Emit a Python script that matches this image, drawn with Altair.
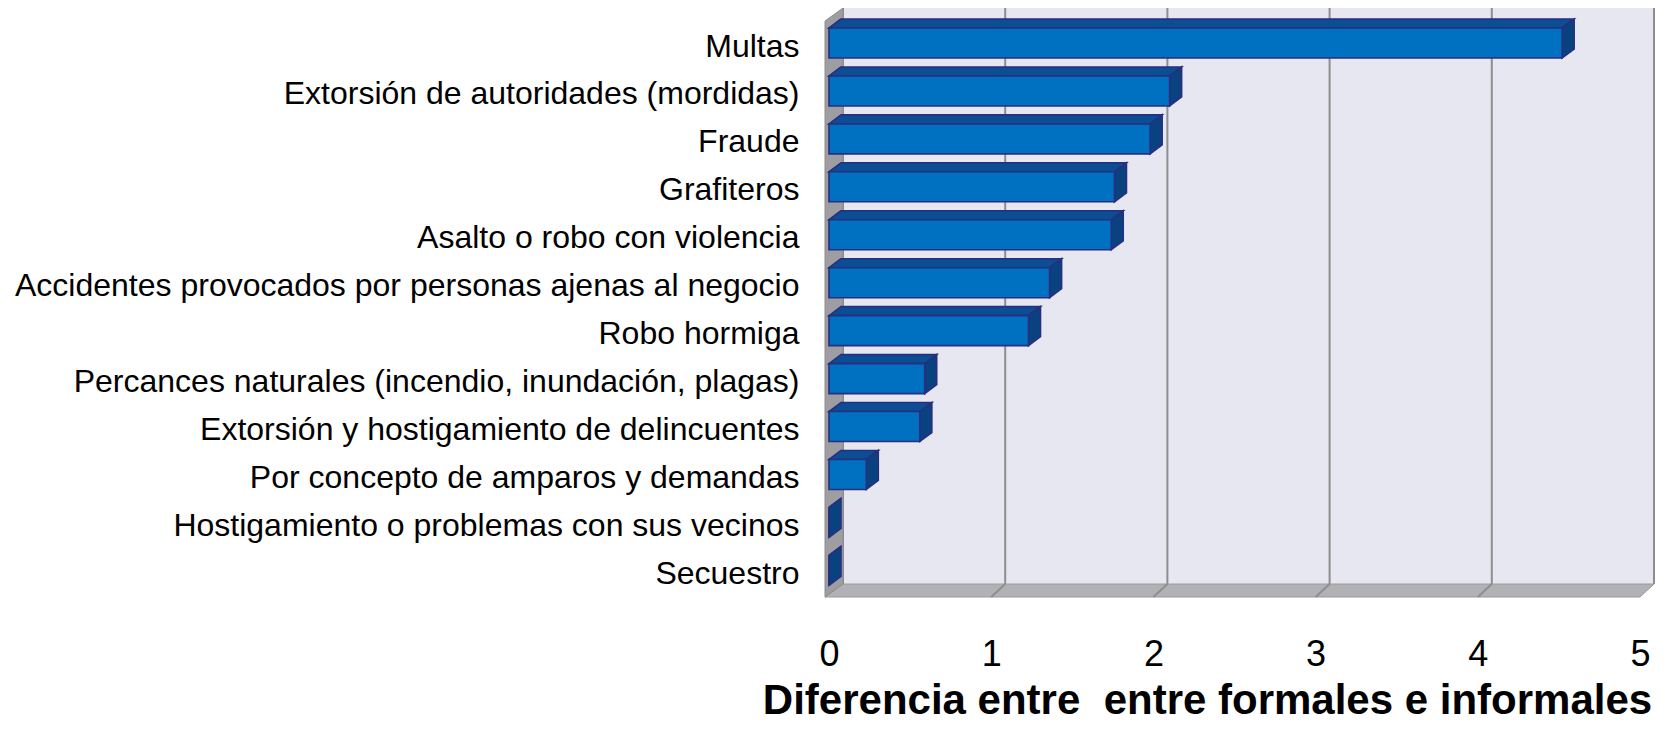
import json
import altair as alt
import pandas as pd

# ---------------- data ----------------
categories = [
    "Multas",
    "Extorsión de autoridades (mordidas)",
    "Fraude",
    "Grafiteros",
    "Asalto o robo con violencia",
    "Accidentes provocados por personas ajenas al negocio",
    "Robo hormiga",
    "Percances naturales (incendio, inundación, plagas)",
    "Extorsión y hostigamiento de delincuentes",
    "Por concepto de amparos y demandas",
    "Hostigamiento o problemas con sus vecinos",
    "Secuestro",
]
values = [4.52, 2.10, 1.98, 1.76, 1.74, 1.36, 1.23, 0.59, 0.56, 0.23, 0.0, 0.0]
x_ticks = [0, 1, 2, 3, 4, 5]
x_title = "Diferencia entre  entre formales e informales"
# keep the double space visible in SVG
x_title_shown = x_title.replace("  ", "\u00a0 ")

# ---------------- geometry (pixel sizes converted to data units) ----------------
PX_X = 162.2      # pixels per x unit
PX_R = 47.94      # pixels per category row
X_MIN = -4 / PX_X
WDX = 14 / PX_X   # wall depth (x)
X_MAX = 5 + WDX
R_MIN = -35 / PX_R
R_MAX = 554 / PX_R
FLOOR_BACK = R_MAX - 13 / PX_R
WALL_TOP_FRONT = R_MIN + 13 / PX_R
HALF = 15 / PX_R  # half bar height
BDX = 12 / PX_X   # bar depth
BDY = 9 / PX_R

W = round((X_MAX - X_MIN) * PX_X)
H = round((R_MAX - R_MIN) * PX_R)

FONT = "Liberation Sans"
xs = alt.Scale(domain=[X_MIN, X_MAX], nice=False, zero=False)
ys = alt.Scale(domain=[R_MIN, R_MAX], nice=False, zero=False, reverse=True)

label_expr = json.dumps(categories, ensure_ascii=False) + "[round(datum.value)]"

AX_X = alt.Axis(
    values=x_ticks, title=x_title_shown, grid=False, domain=False, ticks=False,
    labelFontSize=36, labelFont=FONT, labelColor="#000000", labelFlush=False,
    labelBaseline="alphabetic", labelPadding=68, labelOverlap=False,
    titleFontSize=42, titleFont=FONT, titleFontWeight="bold", titleColor="#000000",
    titleX=382, titleY=116, titleAlign="center", titleBaseline="alphabetic")
AX_Y = alt.Axis(
    values=list(range(len(categories))), labelExpr=label_expr, title=None,
    grid=False, domain=False, ticks=False, labelFontSize=32, labelFont=FONT,
    labelColor="#000000", labelPadding=26, labelLimit=2000, labelOverlap=False,
    labelBaseline="middle", labelFlush=False, labelOffset=3)


def X(f):
    return alt.X(f, scale=xs, axis=AX_X, title=x_title_shown)


def Y(f):
    return alt.Y(f, scale=ys, axis=AX_Y, title=None)


# ---------------- tables ----------------
front = pd.DataFrame({
    "cat": categories,
    "x0": [0.0] * len(values),
    "x1": values,
    "y0": [i - HALF for i in range(len(values))],
    "y1": [i + HALF for i in range(len(values))],
})

top_rows, side_rows = [], []
for i, (c, v) in enumerate(zip(categories, values)):
    top_rows.append({"cat": c, "y": i - HALF, "xl": 0.0, "xr": v})
    top_rows.append({"cat": c, "y": i - HALF - BDY, "xl": BDX, "xr": v + BDX})
    side_rows.append({"cat": c, "x": v, "yl": i - HALF, "yh": i + HALF})
    side_rows.append({"cat": c, "x": v + BDX, "yl": i - HALF - BDY, "yh": i + HALF - BDY})
top = pd.DataFrame(top_rows)
side = pd.DataFrame(side_rows)

back_wall = pd.DataFrame({"x": [WDX], "x2": [X_MAX], "y": [R_MIN], "y2": [FLOOR_BACK]})
left_wall = pd.DataFrame({"x": [X_MIN, WDX], "y": [WALL_TOP_FRONT, R_MIN], "y2": [R_MAX, FLOOR_BACK], "k": [0, 0]})
floor = pd.DataFrame({"y": [R_MAX, FLOOR_BACK], "x": [X_MIN, WDX], "x2": [5.0, X_MAX], "k": [0, 0]})
grid_back = pd.DataFrame({"x": [t + WDX for t in x_ticks], "y": [R_MIN] * 6, "y2": [FLOOR_BACK] * 6})
grid_floor = pd.DataFrame({"x": [float(t) for t in x_ticks[1:-1]],
                           "x2": [t + WDX for t in x_ticks[1:-1]],
                           "y": [R_MAX] * 4, "y2": [FLOOR_BACK] * 4})

# ---------------- layers ----------------
wall_layer = alt.Chart(back_wall).mark_rect(color="#E7E7F1").encode(
    x=X("x:Q"), x2="x2:Q", y=Y("y:Q"), y2="y2:Q")

grid_layer = alt.Chart(grid_back).mark_rule(color="#8E8E8E", strokeWidth=2).encode(
    x=X("x:Q"), y=Y("y:Q"), y2="y2:Q")

floor_layer = alt.Chart(floor).mark_area(orient="horizontal", color="#B1B1B6",
                                         stroke="#9A9A9E", strokeWidth=1).encode(
    y=Y("y:Q"), x=X("x:Q"), x2="x2:Q", detail="k:N")

floor_grid = alt.Chart(grid_floor).mark_rule(color="#8E8E8E", strokeWidth=2).encode(
    x=X("x:Q"), x2="x2:Q", y=Y("y:Q"), y2="y2:Q")

left_layer = alt.Chart(left_wall).mark_area(orient="vertical", color="#9E9EA2",
                                            stroke="#8C8C90", strokeWidth=1).encode(
    x=X("x:Q"), y=Y("y:Q"), y2="y2:Q", detail="k:N")

OUTLINE = "#2B2D80"

top_layer = alt.Chart(top).mark_area(orient="horizontal", color="#0A4E93",
                                     stroke=OUTLINE, strokeWidth=1.6).encode(
    y=Y("y:Q"), x=X("xl:Q"), x2="xr:Q", detail="cat:N")

side_layer = alt.Chart(side).mark_area(orient="vertical", color="#08437F",
                                       stroke=OUTLINE, strokeWidth=1.6).encode(
    x=X("x:Q"), y=Y("yl:Q"), y2="yh:Q", detail="cat:N")

front_layer = alt.Chart(front).mark_rect(color="#0070C0", stroke=OUTLINE, strokeWidth=1.6).encode(
    x=X("x0:Q"), x2="x1:Q", y=Y("y0:Q"), y2="y1:Q")

chart = alt.layer(
    wall_layer, grid_layer, floor_layer, floor_grid, left_layer,
    top_layer, side_layer, front_layer,
).properties(
    width=W, height=H,
    autosize=alt.AutoSizeParams(type="none"),
    padding={"left": 817, "top": 0, "right": 3, "bottom": 126},
    background="#FFFFFF",
).configure_view(stroke=None)

chart.save("out.html", embed_options={"renderer": "svg", "actions": False})
